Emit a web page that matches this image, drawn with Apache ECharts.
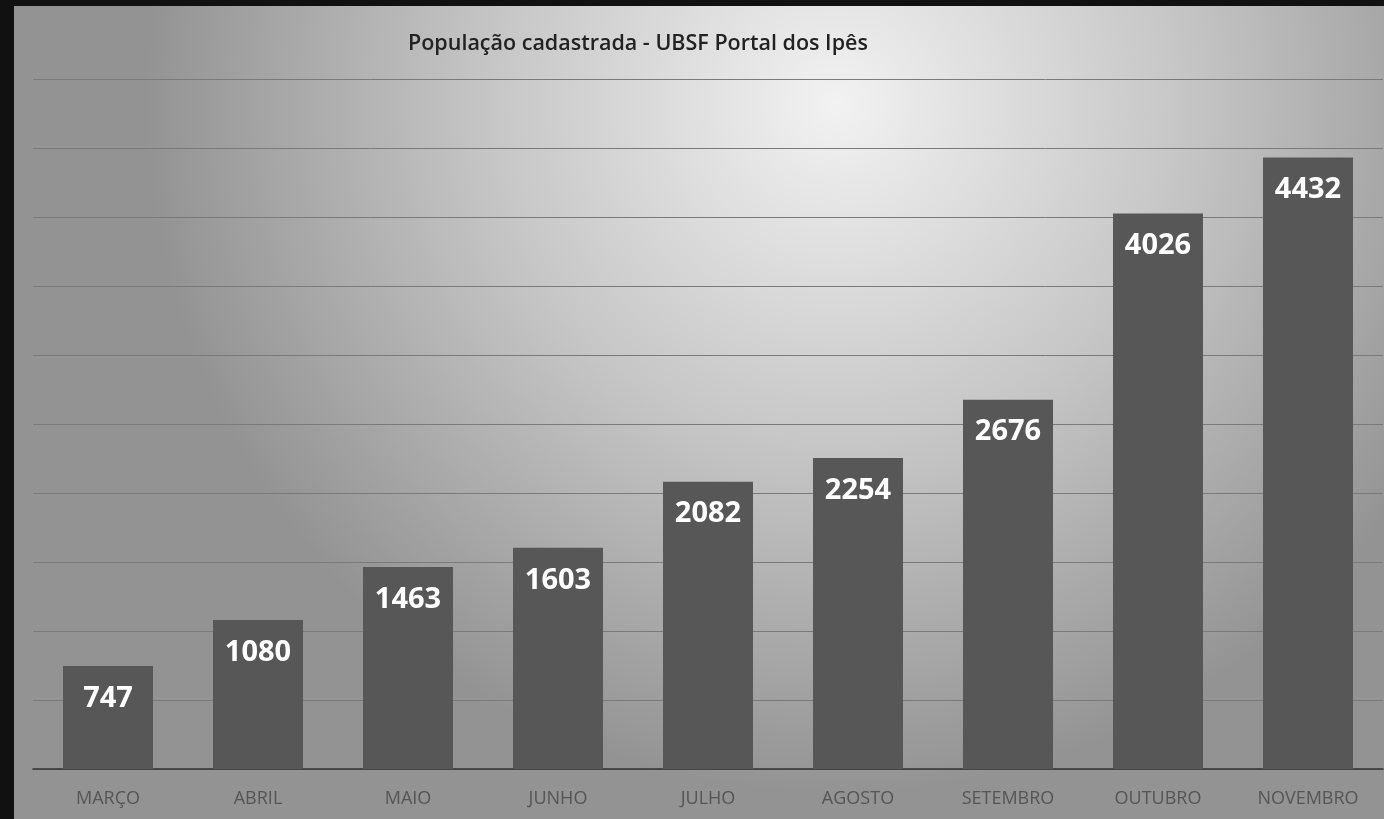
<!DOCTYPE html>
<html>
<head>
<meta charset="utf-8">
<script src="https://cdn.jsdelivr.net/npm/echarts@6/dist/echarts.min.js"></script>
<style>
  html, body { margin: 0; padding: 0; background: #111; }
  #chart { position: absolute; left: 14px; top: 6px; width: 1370px; height: 813px; }
</style>
</head>
<body>
<div id="chart"></div>
<script>
const titleText = "População cadastrada - UBSF Portal dos Ipês";
const months = ["MARÇO", "ABRIL", "MAIO", "JUNHO", "JULHO", "AGOSTO", "SETEMBRO", "OUTUBRO", "NOVEMBRO"];
const registered = [747, 1080, 1463, 1603, 2082, 2254, 2676, 4026, 4432];

const chart = echarts.init(document.getElementById("chart"));

const options = {
  backgroundColor: {
    type: "radial",
    x: 0.6,
    y: 0.12,
    r: 0.85,
    colorStops: [
      { offset: 0, color: "#f2f2f2" },
      { offset: 0.5, color: "#c6c6c6" },
      { offset: 1, color: "#939393" },
    ],
  },
  title: {
    text: titleText,
    left: 389,
    top: 22,
    textStyle: {
      fontFamily: "Open Sans",
      fontSize: 21.5,
      fontWeight: 600,
      color: "#222",
    },
  },
  grid: {
    left: 19,
    right: 1,
    top: 73,
    bottom: 50,
  },
  xAxis: {
    type: "category",
    data: months,
    axisTick: { show: false },
    axisLine: { show: true, lineStyle: { color: "#333", width: 1.5 } },
    axisLabel: {
      margin: 21,
      fontFamily: "Open Sans",
      fontSize: 18,
      color: "#555",
    },
  },
  yAxis: {
    type: "value",
    min: 0,
    max: 5000,
    interval: 500,
    axisLabel: { show: false },
    axisLine: { show: false },
    axisTick: { show: false },
    splitLine: { show: true, lineStyle: { color: "#7a7a7a", width: 1 } },
  },
  series: [
    {
      type: "bar",
      data: registered,
      barWidth: "60%",
      itemStyle: { color: "#575757" },
      label: {
        show: true,
        position: "insideTop",
        distance: 18,
        fontFamily: "Open Sans",
        fontWeight: "bold",
        fontSize: 29,
        color: "#fff",
      },
    },
  ],
};

chart.setOption(options);
</script>
</body>
</html>
